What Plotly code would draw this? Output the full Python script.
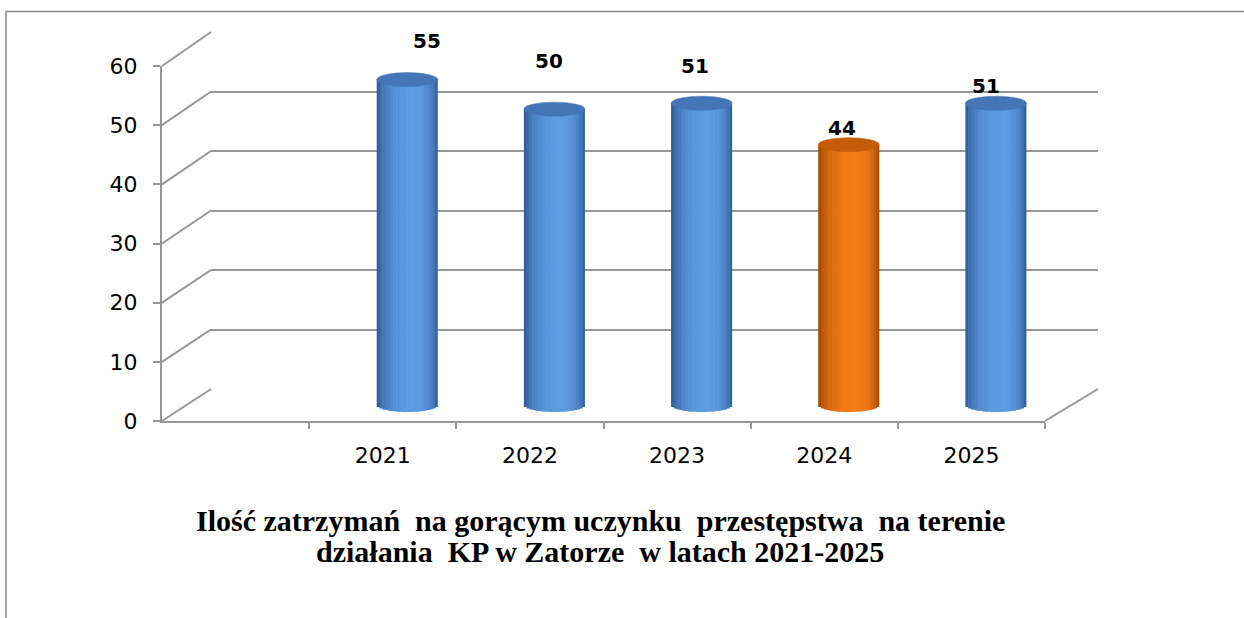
import plotly.graph_objects as go
import numpy as np

# ---------------- data ----------------
years = ["2021", "2022", "2023", "2024", "2025"]
values = [55, 50, 51, 44, 51]
bar_kind = ["blue", "blue", "blue", "orange", "blue"]
y_ticks = [0, 10, 20, 30, 40, 50, 60]
title_lines = ["Ilość zatrzymań  na gorącym uczynku  przestępstwa  na terenie",
               "działania  KP w Zatorze  w latach 2021-2025"]
# data label nudges (px), style only
label_dx = [20, -5, -7, -7, -10]
label_dy = [39, 48, 37, 17, 17]

# ---------------- layout geometry ----------------
W, H = 1244, 618
def px(x): return x / W
def py(y): return 1 - y / H

FRONT_X = (162, 1045); FRONT_Y0, FRONT_Y60 = 421, 66
BACK_X = (211, 1098); BACK_Y0, BACK_Y60 = 389, 32
DX, DY = 24.5, -16          # middle depth (bars) offset
UNIT = (FRONT_Y0 - FRONT_Y60) / 60.0
Y2_LO, Y2_HI = -5, 65
MID_Y0 = FRONT_Y0 + DY
GRID = "#969696"

palette = {
    "blue": {"dark": (38, 80, 140), "light": (94, 156, 226), "cap": "#4575b6"},
    "orange": {"dark": (146, 64, 0), "light": (246, 124, 20), "cap": "#c45c08"},
}

def shade(kind, t):
    d = np.array(palette[kind]["dark"]); l = np.array(palette[kind]["light"])
    c = d + (l - d) * t
    return "rgb(%d,%d,%d)" % tuple(int(round(v)) for v in c)

BW = 0.415                      # bar width in category units
N = 22
sw = BW / N
hb = 7 / UNIT                   # half height of ellipse (data units)

fig = go.Figure()

# back plane (grid)
fig.add_trace(go.Scatter(x=[0.5], y=[30], xaxis="x", yaxis="y", mode="markers",
                         marker=dict(opacity=0), hoverinfo="skip", showlegend=False))

# cylinder bodies built from vertical shaded stripes
for k in range(N):
    uc = -1 + (2 * k + 1) / N
    peak = 0.2
    s = 1.2 if uc < peak else 0.8
    t = max(0.0, 1 - ((uc - peak) / s) ** 2) ** 0.6
    base = -hb * np.sqrt(max(0.0, 1 - uc ** 2))
    w = sw * (1.0 if k == N - 1 else 1.2)
    fig.add_trace(go.Bar(
        x=years, y=[v - base for v in values], base=base,
        offset=-BW / 2 + k * sw, width=w,
        marker=dict(color=[shade(kd, t) for kd in bar_kind], line=dict(width=0)),
        xaxis="x2", yaxis="y2", hoverinfo="skip", showlegend=False))

# front axes
fig.add_trace(go.Scatter(x=years, y=values, xaxis="x3", yaxis="y3", mode="markers",
                         marker=dict(opacity=0), hoverinfo="skip", showlegend=False))

shapes = []
# frame
shapes.append(dict(type="rect", xref="paper", yref="paper", x0=px(6), x1=1.02,
                   y0=-0.05, y1=py(11.5), line=dict(color="#8a8a8a", width=1.5)))
# side diagonals of grid
for v in y_ticks:
    yf = FRONT_Y0 - v * (FRONT_Y0 - FRONT_Y60) / 60
    yb = BACK_Y0 - v * (BACK_Y0 - BACK_Y60) / 60
    shapes.append(dict(type="line", xref="paper", yref="paper",
                       x0=px(FRONT_X[0]), y0=py(yf), x1=px(BACK_X[0]), y1=py(yb),
                       line=dict(color=GRID, width=2)))
# right floor edge
shapes.append(dict(type="line", xref="paper", yref="paper",
                   x0=px(FRONT_X[1]), y0=py(FRONT_Y0), x1=px(BACK_X[1]), y1=py(BACK_Y0),
                   line=dict(color=GRID, width=2)))
# cylinder top caps
cap_w = BW * (FRONT_X[1] - FRONT_X[0]) / 6
for i, (v, kd) in enumerate(zip(values, bar_kind)):
    shapes.append(dict(type="circle", xref="x2", yref="y2",
                       xsizemode="pixel", ysizemode="pixel", xanchor=i, yanchor=v,
                       x0=-cap_w / 2, x1=cap_w / 2, y0=-7, y1=7,
                       fillcolor=palette[kd]["cap"], line=dict(color=palette[kd]["cap"], width=0.5)))

annotations = []
for i, v in enumerate(values):
    annotations.append(dict(x=i, y=v, xref="x2", yref="y2", text="<b>%d</b>" % v,
                            showarrow=False, xshift=label_dx[i], yshift=label_dy[i],
                            yanchor="middle", xanchor="center",
                            font=dict(family="DejaVu Sans", size=20, color="black")))
for line, yc in zip(title_lines, [520, 551]):
    annotations.append(dict(x=px(600), y=py(yc), xref="paper", yref="paper",
                            text="<b>" + line + "</b>", showarrow=False,
                            xanchor="center", yanchor="middle",
                            font=dict(family="Liberation Serif", size=30, color="black")))

fig.update_layout(
    width=W, height=H, margin=dict(l=0, r=0, t=0, b=0, pad=0, autoexpand=False),
    paper_bgcolor="white", plot_bgcolor="rgba(0,0,0,0)",
    barmode="overlay", hovermode=False, showlegend=False,
    shapes=shapes, annotations=annotations,
    xaxis=dict(domain=[px(BACK_X[0]), px(BACK_X[1])], range=[0, 1], visible=True,
               showgrid=False, zeroline=False, showline=False, showticklabels=False,
               ticks="", anchor="y", automargin=False),
    yaxis=dict(domain=[py(BACK_Y0), py(BACK_Y60)], range=[0, 60], tickvals=y_ticks,
               showgrid=True, gridcolor=GRID, gridwidth=2, zeroline=False,
               showline=False, showticklabels=False, ticks="", anchor="x", automargin=False),
    xaxis2=dict(domain=[px(FRONT_X[0] + DX), px(FRONT_X[1] + DX)], type="category",
                categoryorder="array", categoryarray=years,
                range=[-1.5, 4.5], visible=False, anchor="y2", automargin=False),
    yaxis2=dict(domain=[py(MID_Y0 - Y2_LO * UNIT), py(MID_Y0 - Y2_HI * UNIT)],
                range=[Y2_LO, Y2_HI], visible=False, anchor="x2", automargin=False),
    xaxis3=dict(domain=[px(FRONT_X[0]), px(FRONT_X[1])], type="category",
                categoryorder="array", categoryarray=years,
                range=[-1.5, 4.5], tickson="boundaries", ticks="outside", ticklen=6,
                tickwidth=2, tickcolor=GRID, showline=True, linecolor=GRID, linewidth=2,
                showgrid=False, zeroline=False, ticklabelstandoff=14, automargin=False,
                tickfont=dict(family="DejaVu Sans", size=22, color="black"), anchor="y3"),
    yaxis3=dict(domain=[py(FRONT_Y0), py(FRONT_Y60)], range=[0, 60], tickvals=y_ticks,
                ticks="outside", ticklen=7, tickwidth=2, tickcolor=GRID,
                showline=True, linecolor=GRID, linewidth=2, showgrid=False,
                zeroline=False, ticklabelstandoff=11, automargin=False,
                tickfont=dict(family="DejaVu Sans", size=22, color="black"), anchor="x3"),
)

fig.write_html("out.html", config={"displayModeBar": False},
               post_script="document.body.style.margin='0';")
